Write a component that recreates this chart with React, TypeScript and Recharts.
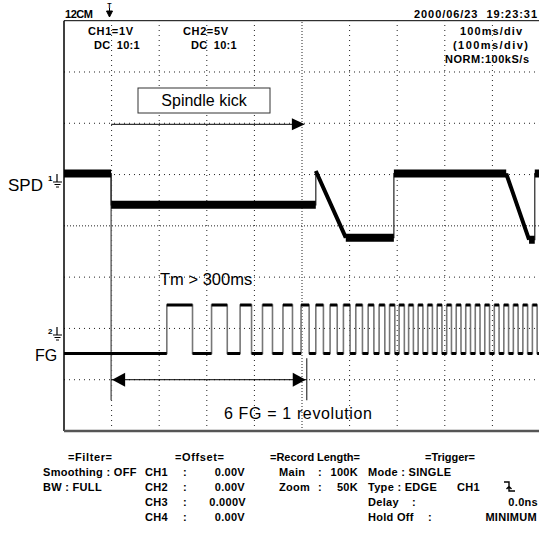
import React from 'react';
import { ComposedChart, Line, XAxis, YAxis, ReferenceLine } from 'recharts';

// time axis: ms (100 ms/div, 10 div); vertical: divisions (-4..4)
const timeTicks = [0, 100, 200, 300, 400, 500, 600, 700, 800, 900, 1000];
const divTicks = [-4, -3, -2, -1, 0, 1, 2, 3, 4];

// SPD trace (CH1) vertices
const spdTimes = [0, 99, 99, 529, 529, 592, 693, 693, 929, 977, 989, 989, 1000];
const spdLevels = [1.02, 1.02, 0.41, 0.41, 1.07, -0.23, -0.23, 1.02, 1.02, -0.27, -0.27, 1.02, 1.02];

// FG trace (CH2) edges
const fgRise = [216, 310, 370, 417, 460, 498, 529, 559, 587, 613, 639, 662, 684, 704, 724, 744, 764, 784, 804, 824, 844, 864, 884, 904, 924, 944, 964, 984];
const fgFall = [270, 343, 394, 438, 480, 515, 545, 574, 601, 627, 651, 674, 695, 715, 734, 754, 774, 794, 814, 834, 854, 874, 894, 914, 934, 954, 974, 994];
const fgLow = -2.49;
const fgHigh = -1.545;

type P = { t: number; v: number | null };

const spdPts: P[] = spdTimes.map((t, i) => ({ t, v: spdLevels[i] }));
const fgPts: P[] = [{ t: 0, v: fgLow }];
fgRise.forEach((r, i) => {
  fgPts.push({ t: r, v: fgLow }, { t: r, v: fgHigh }, { t: fgFall[i], v: fgHigh }, { t: fgFall[i], v: fgLow });
});
fgPts.push({ t: 1000, v: fgLow });

function pick(pts: P[], keep: (a: P, b: P) => boolean): P[] {
  const out: P[] = [];
  for (let i = 0; i < pts.length - 1; i++) {
    const a = pts[i];
    const b = pts[i + 1];
    if (keep(a, b)) out.push({ t: a.t, v: a.v }, { t: b.t, v: b.v }, { t: b.t, v: null });
  }
  return out;
}
const flat = (a: P, b: P) => a.v === b.v && a.t !== b.t;
const ramp = (a: P, b: P) => a.v !== b.v && a.t !== b.t;

const spdFlat = pick(spdPts, flat);
const spdRamp = pick(spdPts, ramp);
const fgFlat = pick(fgPts, flat);

// pixel mapping for overlay decorations
const L = 64, T = 20.7, W = 476, H = 410.3;
const px = (t: number) => L + (t / 1000) * W;
const py = (d: number) => T + ((4 - d) / 8) * H;

const scopeFont = { fontFamily: 'Liberation Sans, Arial, sans-serif', fontSize: 11, fontWeight: 700 };
type Tx = { s: string; x: number; y: number; w?: number; a?: 'start' | 'end' | 'middle' };
const topTexts: Tx[] = [
  { s: '12CM', x: 65, y: 18, w: 28 },
  { s: '2000/06/23  19:23:31', x: 414, y: 18, w: 123 },
  { s: 'CH1=1V', x: 88, y: 35, w: 45 },
  { s: 'DC', x: 94, y: 49 },
  { s: '10:1', x: 140, y: 49, a: 'end' },
  { s: 'CH2=5V', x: 183, y: 35, w: 45 },
  { s: 'DC', x: 191, y: 49 },
  { s: '10:1', x: 237, y: 49, a: 'end' },
  { s: '100ms/div', x: 460, y: 35, w: 62 },
  { s: '(100ms/div)', x: 453, y: 49, w: 75 },
  { s: 'NORM:100kS/s', x: 445, y: 63, w: 84 },
];
const rows = [461, 476, 491, 506, 521];
const bottomTexts: Tx[] = [
  { s: '=Filter=', x: 68, y: rows[0], w: 44 },
  { s: '=Offset=', x: 175, y: rows[0], w: 49 },
  { s: '=Record Length=', x: 270, y: rows[0], w: 90 },
  { s: '=Trigger=', x: 425, y: rows[0], w: 50 },
  { s: 'Smoothing : OFF', x: 43, y: rows[1] },
  { s: 'CH1', x: 145, y: rows[1] },
  { s: ':', x: 183, y: rows[1] },
  { s: '0.00V', x: 245, y: rows[1], a: 'end' },
  { s: 'Main', x: 279, y: rows[1] },
  { s: ':', x: 318, y: rows[1] },
  { s: '100K', x: 358, y: rows[1], a: 'end' },
  { s: 'Mode : SINGLE', x: 368, y: rows[1] },
  { s: 'BW : FULL', x: 43, y: rows[2] },
  { s: 'CH2', x: 145, y: rows[2] },
  { s: ':', x: 183, y: rows[2] },
  { s: '0.00V', x: 245, y: rows[2], a: 'end' },
  { s: 'Zoom', x: 279, y: rows[2] },
  { s: ':', x: 318, y: rows[2] },
  { s: '50K', x: 358, y: rows[2], a: 'end' },
  { s: 'Type : EDGE', x: 368, y: rows[2] },
  { s: 'CH1', x: 457, y: rows[2] },
  { s: 'CH3', x: 145, y: rows[3] },
  { s: ':', x: 183, y: rows[3] },
  { s: '0.000V', x: 246, y: rows[3], a: 'end' },
  { s: 'Delay', x: 368, y: rows[3] },
  { s: ':', x: 412, y: rows[3] },
  { s: '0.0ns', x: 538, y: rows[3], a: 'end' },
  { s: 'CH4', x: 145, y: rows[4] },
  { s: ':', x: 183, y: rows[4] },
  { s: '0.00V', x: 245, y: rows[4], a: 'end' },
  { s: 'Hold Off', x: 368, y: rows[4] },
  { s: ':', x: 428, y: rows[4] },
  { s: 'MINIMUM', x: 537, y: rows[4], a: 'end' },
];

const big = { fontFamily: 'Liberation Sans, Arial, sans-serif', fontSize: 16, fill: '#000' };

function Ground({ x, y, n }: { x: number; y: number; n: string }) {
  return (
    <g>
      <text x={x} y={y + 7} style={{ fontFamily: 'Liberation Sans, Arial, sans-serif', fontSize: 8, fontWeight: 700 }}>{n}</text>
      <path d={`M${x + 9},${y} v8 M${x + 5},${y + 8} h9 M${x + 6.5},${y + 10.5} h6 M${x + 8},${y + 13} h3`} stroke="#000" strokeWidth={1.2} fill="none" />
    </g>
  );
}

function Txt({ d }: { d: Tx }) {
  return (
    <text
      x={d.x}
      y={d.y}
      textAnchor={d.a || 'start'}
      textLength={d.w}
      lengthAdjust={d.w ? 'spacing' : undefined}
      style={{ ...scopeFont, whiteSpace: 'pre', letterSpacing: d.w ? undefined : 0.3 }}
      fill="#000"
    >
      {d.s}
    </text>
  );
}

export default function App() {
  const gridX = timeTicks.slice(1, -1);
  const gridY = divTicks.slice(1, -1);
  return (
    <div style={{ position: 'absolute', left: 0, top: 0, width: 539, height: 533, overflow: 'hidden', background: '#fff' }}>
      <ComposedChart width={560} height={533} margin={{ top: T, right: 20, bottom: 533 - T - H, left: L }}>
        <XAxis type="number" dataKey="t" domain={[0, 1000]} ticks={timeTicks} hide allowDataOverflow />
        <YAxis type="number" domain={[-4, 4]} ticks={divTicks} hide allowDataOverflow />
        {gridX.map((t) => (
          <ReferenceLine key={'gx' + t} x={t} stroke="#222" strokeWidth={1} strokeDasharray={t === 500 ? '1 2' : '1 4'} />
        ))}
        {gridY.map((d) => (
          <ReferenceLine key={'gy' + d} y={d} stroke="#222" strokeWidth={1} strokeDasharray={d === 0 ? '1 2' : '1 4'} />
        ))}
        <ReferenceLine x={0} stroke="#000" strokeWidth={1.5} />
        <ReferenceLine y={4} stroke="#000" strokeWidth={1} />
        <ReferenceLine y={-4} stroke="#555" strokeWidth={2.5} />
        <ReferenceLine segment={[{ x: 99, y: 1.02 }, { x: 99, y: -3.4 }]} stroke="#666" strokeWidth={1.5} />
        <ReferenceLine segment={[{ x: 510, y: -2.58 }, { x: 510, y: -3.4 }]} stroke="#333" strokeWidth={1.2} />
        <ReferenceLine segment={[{ x: 99, y: -3 }, { x: 510, y: -3 }]} stroke="#000" strokeWidth={1} />
        <ReferenceLine segment={[{ x: 99, y: 1.98 }, { x: 500, y: 1.98 }]} stroke="#000" strokeWidth={1} />

        <Line data={spdPts} dataKey="v" type="linear" stroke="#333" strokeWidth={1.3} dot={false} isAnimationActive={false} />
        <Line data={spdRamp} dataKey="v" type="linear" stroke="#000" strokeWidth={4} dot={false} isAnimationActive={false} />
        <Line data={spdFlat} dataKey="v" type="linear" stroke="#000" strokeWidth={8} strokeLinecap="butt" dot={false} isAnimationActive={false} />
        <Line data={fgPts} dataKey="v" type="linear" stroke="#777" strokeWidth={1.6} dot={false} isAnimationActive={false} />
        <Line data={fgFlat} dataKey="v" type="linear" stroke="#000" strokeWidth={3} strokeLinecap="butt" dot={false} isAnimationActive={false} />
      </ComposedChart>

      <svg width={539} height={533} style={{ position: 'absolute', left: 0, top: 0, pointerEvents: 'none' }}>
        {topTexts.map((d, i) => (
          <Txt key={'tt' + i} d={d} />
        ))}
        {bottomTexts.map((d, i) => (
          <Txt key={'bt' + i} d={d} />
        ))}
        {/* trigger position marker */}
        <text x={109.5} y={8} textAnchor="middle" style={{ fontFamily: 'Liberation Sans, Arial, sans-serif', fontSize: 7, fontWeight: 700 }}>T</text>
        <path d="M109.5,8 V16 M106.5,11 L112.5,11 L109.5,17 Z" stroke="#000" strokeWidth={1} fill="#000" />
        {/* trigger edge icon */}
        <path d="M504,482 H509 V491 H515 M509,486.5 L506.5,489 M509,486.5 L511.5,489" stroke="#000" strokeWidth={1.4} fill="none" />
        {/* ground markers */}
        <Ground x={48} y={174} n="1" />
        <Ground x={48} y={327} n="2" />
        {/* labels */}
        <text x={8} y={191} style={{ ...big, fontSize: 17 }}>SPD</text>
        <text x={35} y={361} style={big}>FG</text>
        <rect x={138} y={88} width={132} height={25} fill="#fff" stroke="#333" strokeWidth={1} />
        <text x={204} y={106} textAnchor="middle" style={big}>Spindle kick</text>
        <polygon points={`${px(506)},${py(1.98)} ${px(506) - 13},${py(1.98) - 6} ${px(506) - 13},${py(1.98) + 6}`} fill="#000" />
        <text x={160} y={285} style={{ ...big, fontSize: 16.5 }}>Tm &gt; 300ms</text>
        <polygon points={`${px(99) + 1},${py(-3)} ${px(99) + 14},${py(-3) - 7} ${px(99) + 14},${py(-3) + 7}`} fill="#000" />
        <polygon points={`${px(510) - 1},${py(-3)} ${px(510) - 14},${py(-3) - 7} ${px(510) - 14},${py(-3) + 7}`} fill="#000" />
        <text x={224} y={419} textLength={148} lengthAdjust="spacing" style={big}>6 FG = 1 revolution</text>
      </svg>
    </div>
  );
}
